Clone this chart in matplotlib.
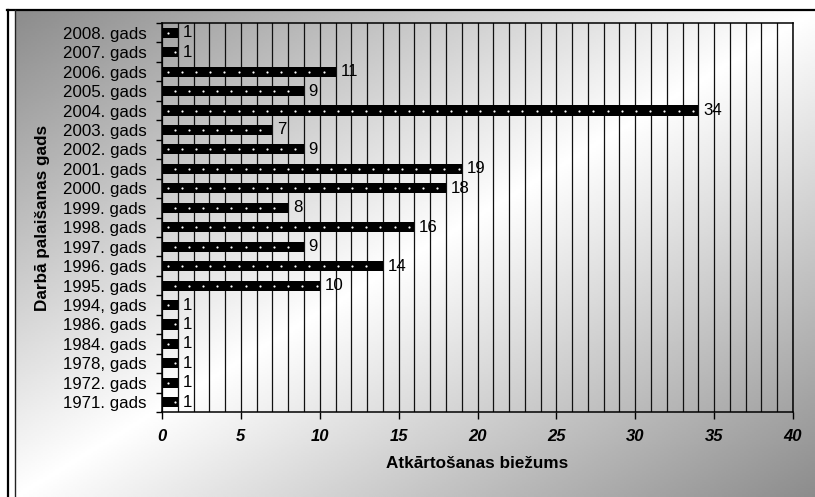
import numpy as np
import matplotlib
matplotlib.use('Agg')
import matplotlib.pyplot as plt
from matplotlib.lines import Line2D

plt.rcParams['font.family'] = ['Liberation Sans', 'DejaVu Sans']

years = ['2008. gads', '2007. gads', '2006. gads', '2005. gads', '2004. gads',
         '2003. gads', '2002. gads', '2001. gads', '2000. gads', '1999. gads',
         '1998. gads', '1997. gads', '1996. gads', '1995. gads', '1994, gads',
         '1986. gads', '1984. gads', '1978, gads', '1972. gads', '1971. gads']
counts = [1, 1, 11, 9, 34, 7, 9, 19, 18, 8, 16, 9, 14, 10, 1, 1, 1, 1, 1, 1]
x_ticks = [0, 5, 10, 15, 20, 25, 30, 35, 40]

W, H = 815, 497
fig = plt.figure(figsize=(W / 100, H / 100), dpi=100)
fig.patch.set_facecolor('white')

# diagonal grey-white-grey background inside the frame
bg = fig.add_axes([16 / W, 0, 1 - 16 / W, 1 - 11 / H], zorder=0)
gx, gy = np.meshgrid(np.linspace(0, 1, 400), np.linspace(0, 1, 250))
shade = 1 - 0.45 * np.abs(gx + gy - 1)
bg.imshow(shade, cmap='gray', vmin=0, vmax=1, aspect='auto', extent=[0, 1, 1, 0],
          interpolation='bilinear')
bg.set_axis_off()

# double frame along the left and top edges
fig.add_artist(Line2D([7 / W, 1], [1 - 10 / H, 1 - 10 / H], color='black', lw=1.6,
                      transform=fig.transFigure))
fig.add_artist(Line2D([8.2 / W, 8.2 / W], [0, 1 - 10 / H], color='black', lw=1.6,
                      transform=fig.transFigure))
fig.add_artist(Line2D([15.3 / W, 15.3 / W], [0, 1 - 10 / H], color='#222222', lw=1.0,
                      transform=fig.transFigure))

ax = fig.add_axes([162 / W, 1 - 412 / H, (793 - 162) / W, (412 - 23) / H], zorder=1)
ax.patch.set_alpha(0)

y = np.arange(len(years))
ax.barh(y, counts, height=0.52, color='black', zorder=3)

# small white dots inside each bar
step = 0.9
for i, v in enumerate(counts):
    start = 0.35 + (i % 2) * 0.45
    xs = np.arange(start, v - 0.15, step)
    ax.scatter(xs, np.full(len(xs), i), s=2.5, color='white', linewidths=0, zorder=4)

for i, v in enumerate(counts):
    ax.text(v + 0.3, i, str(v), va='center', ha='left', fontsize=12.2, zorder=5)

ax.set_xlim(0, 40)
ax.set_ylim(len(years) - 0.5, -0.5)

ax.set_xticks(x_ticks)
ax.set_xticks(range(41), minor=True)
ax.set_xticklabels([str(t) for t in x_ticks], fontsize=12, fontweight='bold',
                   fontstyle='italic')
ax.grid(axis='x', which='both', color='#111111', linewidth=0.9, zorder=1)
ax.set_axisbelow(True)

ax.set_yticks(y)
ax.set_yticklabels(years, fontsize=12.2)
ax.set_yticks(np.arange(-0.5, len(years)), minor=True)

ax.tick_params(axis='x', which='major', direction='out', length=5, width=1, pad=7)
ax.tick_params(axis='x', which='minor', length=0)
ax.tick_params(axis='y', which='major', length=0, pad=11)
ax.tick_params(axis='y', which='minor', direction='out', length=4.5, width=1)

for s in ax.spines.values():
    s.set_color('black')
    s.set_linewidth(1.1)

ax.set_xlabel('Atkārtošanas biežums', fontsize=12.3, fontweight='bold', labelpad=9)
ax.set_ylabel('Darbā palaišanas gads', fontsize=12.3, fontweight='bold')
ax.yaxis.set_label_coords(-(162 - 50) / (793 - 162), 0.5)

fig.savefig('out.png', dpi=100)
